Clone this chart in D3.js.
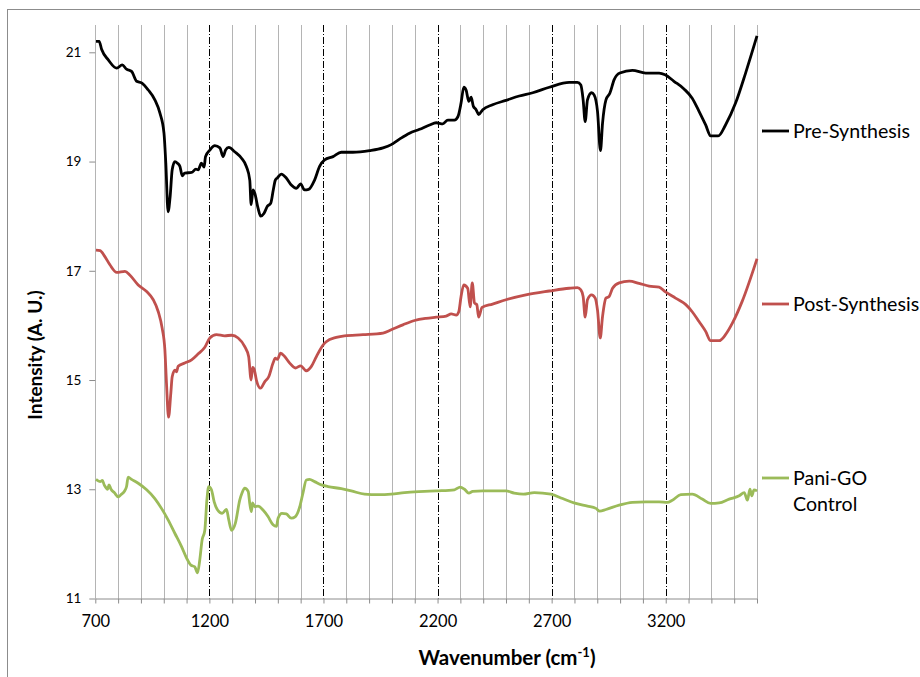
<!DOCTYPE html>
<html>
<head>
<meta charset="utf-8">
<script src="https://cdn.jsdelivr.net/npm/d3@7/dist/d3.min.js"></script>
<style>
  html, body { margin: 0; padding: 0; background: #fff; }
  svg { display: block; }
  text { font-family: Lato, "Open Sans", sans-serif; fill: #000; }
</style>
</head>
<body>
<svg id="chart" width="920" height="677"></svg>
<script>
// FTIR spectra: wavenumber (cm-1) vs. offset intensity (A. U.)
const preWave = [703,717,728,757,794,818,837,859,881,903,932,961,983,1001,1009,1019,1028,1037,1049,1060,1071,1081,1092,1122,1141,1151,1165,1177,1183,1202,1224,1246,1260,1271,1285,1311,1341,1362,1377,1383,1391,1399,1413,1425,1439,1454,1469,1480,1489,1498,1515,1537,1559,1581,1600,1617,1635,1661,1683,1705,1742,1778,1829,1902,1961,1997,2033,2077,2121,2165,2194,2223,2245,2274,2289,2303,2315,2325,2337,2347,2357,2369,2380,2398,2441,2500,2558,2617,2690,2777,2813,2828,2838,2847,2857,2875,2886,2901,2914,2923,2938,2955,2974,2999,3054,3112,3171,3197,3236,3280,3316,3346,3375,3397,3430,3462,3506,3550,3600];
const preVal = [21.2,21.2,21.05,20.86,20.71,20.77,20.69,20.65,20.47,20.44,20.31,20.13,19.89,19.52,18.97,18.08,18.36,18.85,19.0,18.97,18.91,18.74,18.79,18.8,18.86,18.85,18.97,18.9,19.09,19.21,19.29,19.25,19.09,19.21,19.26,19.18,19.06,18.91,18.66,18.21,18.48,18.42,18.15,18.0,18.05,18.18,18.24,18.48,18.66,18.7,18.77,18.7,18.57,18.51,18.59,18.48,18.49,18.66,18.91,19.03,19.09,19.17,19.17,19.2,19.25,19.31,19.41,19.52,19.59,19.67,19.71,19.69,19.76,19.76,19.82,20.07,20.36,20.31,20.1,20.18,20.01,19.95,19.86,19.95,20.04,20.12,20.2,20.26,20.36,20.45,20.45,20.4,20.13,19.73,20.13,20.26,20.22,19.92,19.2,19.7,20.13,20.25,20.5,20.62,20.67,20.62,20.62,20.59,20.47,20.33,20.16,19.92,19.67,19.47,19.47,19.67,20.07,20.62,21.3];

const postWave = [703,721,742,764,794,830,852,888,925,954,976,993,1005,1012,1021,1031,1037,1049,1056,1063,1092,1122,1151,1180,1202,1231,1267,1297,1326,1355,1372,1383,1389,1396,1406,1424,1443,1460,1479,1489,1498,1512,1530,1552,1577,1600,1625,1647,1669,1698,1712,1756,1792,1873,1961,1997,2048,2099,2150,2194,2238,2260,2282,2293,2303,2315,2332,2343,2352,2362,2372,2380,2395,2441,2500,2587,2690,2777,2813,2828,2838,2847,2857,2875,2891,2901,2913,2923,2938,2952,2967,2996,3040,3083,3127,3171,3197,3243,3288,3316,3346,3375,3397,3434,3462,3492,3535,3600];
const postVal = [17.38,17.37,17.26,17.11,16.97,16.99,16.92,16.74,16.62,16.47,16.25,15.95,15.55,14.94,14.32,14.76,15.06,15.18,15.15,15.25,15.31,15.37,15.48,15.6,15.77,15.83,15.81,15.82,15.77,15.61,15.43,15.0,15.23,15.2,15.0,14.85,14.97,15.06,15.31,15.4,15.38,15.49,15.43,15.31,15.22,15.26,15.17,15.25,15.43,15.64,15.7,15.78,15.81,15.83,15.86,15.92,16.01,16.09,16.13,16.15,16.17,16.21,16.19,16.25,16.53,16.74,16.68,16.34,16.78,16.41,16.38,16.15,16.33,16.39,16.47,16.56,16.63,16.68,16.69,16.65,16.53,16.15,16.47,16.56,16.5,16.28,15.77,16.16,16.5,16.53,16.68,16.78,16.81,16.77,16.72,16.7,16.62,16.5,16.38,16.25,16.07,15.89,15.72,15.72,15.83,16.04,16.44,17.22];

const ctrlWave = [703,721,731,739,745,754,760,769,783,801,812,827,837,844,859,888,925,961,990,1019,1049,1078,1100,1119,1136,1148,1158,1168,1180,1189,1197,1209,1221,1236,1256,1275,1285,1297,1314,1333,1343,1355,1370,1377,1384,1389,1399,1413,1435,1457,1479,1494,1501,1518,1537,1559,1577,1596,1610,1625,1639,1661,1691,1720,1778,1822,1880,1939,1997,2055,2143,2194,2274,2299,2318,2337,2354,2398,2500,2536,2576,2624,2697,2748,2806,2857,2894,2911,2938,2996,3054,3112,3171,3207,3229,3266,3316,3360,3397,3434,3478,3522,3544,3558,3569,3577,3587,3600];
const ctrlVal = [13.18,13.14,13.16,13.08,13.04,13.0,13.08,13.0,12.94,12.86,12.9,12.96,13.05,13.22,13.18,13.11,12.99,12.83,12.65,12.44,12.19,11.95,11.74,11.61,11.58,11.47,11.71,12.07,12.25,12.8,13.05,12.99,12.77,12.62,12.56,12.63,12.44,12.25,12.38,12.8,12.93,13.02,12.96,12.74,12.59,12.75,12.68,12.69,12.62,12.5,12.35,12.32,12.47,12.56,12.55,12.47,12.5,12.68,12.93,13.17,13.18,13.14,13.08,13.05,13.01,12.97,12.91,12.9,12.91,12.94,12.96,12.97,12.99,13.04,13.0,12.93,12.96,12.97,12.97,12.93,12.91,12.94,12.91,12.83,12.74,12.69,12.65,12.6,12.63,12.71,12.76,12.77,12.77,12.76,12.8,12.9,12.91,12.82,12.74,12.75,12.82,12.88,12.94,12.8,13.0,12.88,12.99,12.97];

const seriesNames = ["Pre-Synthesis", "Post-Synthesis", "Pani-GO Control"];
const seriesColors = ["#000000", "#c0504d", "#9bbb59"];
const xTickLabels = [700, 1200, 1700, 2200, 2700, 3200];
const yTickLabels = [11, 13, 15, 17, 19, 21];
const markerWaves = [1200, 1700, 2200, 2700, 3200];

const svg = d3.select("#chart");
const plotLeft = 95.3, plotRight = 757, plotTop = 25, plotBottom = 598.5;

const x = d3.scaleLinear().domain([700, 3600]).range([plotLeft, plotRight]);
const y = d3.scaleLinear().domain([11, 21.5]).range([plotBottom, plotTop]);

// outer chart frame
svg.append("rect").attr("x", 7.5).attr("y", 9.5).attr("width", 1000).attr("height", 1000)
  .attr("fill", "#fff").attr("stroke", "#8c8c8c").attr("stroke-width", 1);

// vertical gridlines every 100 cm-1
const gridWaves = d3.range(700, 3601, 100);
svg.append("g").selectAll("line")
  .data(gridWaves.filter(w => !markerWaves.includes(w)))
  .join("line")
  .attr("x1", d => Math.round(x(d)) + 0.5).attr("x2", d => Math.round(x(d)) + 0.5)
  .attr("y1", plotTop).attr("y2", plotBottom)
  .attr("stroke", "#b4b4b4").attr("stroke-width", 1);

// dash-dot reference lines
svg.append("g").selectAll("line")
  .data(markerWaves)
  .join("line")
  .attr("x1", d => Math.round(x(d)) + 0.5).attr("x2", d => Math.round(x(d)) + 0.5)
  .attr("y1", plotTop).attr("y2", plotBottom)
  .attr("stroke", "#000").attr("stroke-width", 1)
  .attr("stroke-dasharray", "7,2,1,2");

// x axis
const xAxis = d3.axisBottom(x)
  .tickValues(gridWaves)
  .tickSizeInner(5).tickSizeOuter(0)
  .tickPadding(12)
  .tickFormat(d => xTickLabels.includes(d) ? d : "");
const gx = svg.append("g").attr("transform", `translate(0,${plotBottom})`).call(xAxis);
gx.select(".domain").attr("stroke", "#8c8c8c");
gx.selectAll(".tick line").attr("stroke", "#8c8c8c");
gx.selectAll(".tick text").attr("font-family", "Lato, sans-serif").attr("font-size", 16.5).attr("fill", "#000");

// y axis
const yAxis = d3.axisLeft(y)
  .tickValues(yTickLabels)
  .tickSizeInner(6).tickSizeOuter(0)
  .tickPadding(8);
const gy = svg.append("g").attr("transform", `translate(${plotLeft},0)`).call(yAxis);
gy.select(".domain").remove();
gy.selectAll(".tick line").attr("stroke", "#8c8c8c");
gy.selectAll(".tick text").attr("font-family", "Lato, sans-serif").attr("font-size", 13.5).attr("fill", "#000");

// spectra
const waves = [preWave, postWave, ctrlWave];
const vals = [preVal, postVal, ctrlVal];
const line = d3.line().x(d => x(d[0])).y(d => y(d[1])).curve(d3.curveMonotoneX);
waves.forEach((w, i) => {
  svg.append("path")
    .datum(w.map((wv, j) => [wv, vals[i][j]]))
    .attr("d", line)
    .attr("fill", "none")
    .attr("stroke", seriesColors[i])
    .attr("stroke-width", 2.8)
    .attr("stroke-linejoin", "round");
});

// legend
const legendY = [131, 304, 478];
const legend = svg.append("g");
seriesNames.forEach((name, i) => {
  legend.append("line")
    .attr("x1", 762).attr("x2", 789)
    .attr("y1", legendY[i]).attr("y2", legendY[i])
    .attr("stroke", seriesColors[i]).attr("stroke-width", 2.8);
  const t = legend.append("text")
    .attr("x", 793).attr("y", legendY[i] + 7)
    .attr("font-size", 19.6);
  const parts = i === 2 ? ["Pani-GO", "Control"] : [name];
  parts.forEach((p, k) => {
    t.append("tspan").attr("x", 793).attr("dy", k === 0 ? 0 : 26).text(p);
  });
});

// axis titles
svg.append("text")
  .attr("transform", "translate(42,355) rotate(-90)")
  .attr("text-anchor", "middle")
  .attr("font-weight", "bold").attr("font-size", 19)
  .text("Intensity (A. U.)");

const xt = svg.append("text")
  .attr("x", 507).attr("y", 665)
  .attr("text-anchor", "middle")
  .attr("font-weight", "bold").attr("font-size", 20.5);
xt.append("tspan").text("Wavenumber (cm");
xt.append("tspan").attr("font-size", 13).attr("dy", -8).text("-1");
xt.append("tspan").attr("dy", 8).text(")");
</script>
</body>
</html>
